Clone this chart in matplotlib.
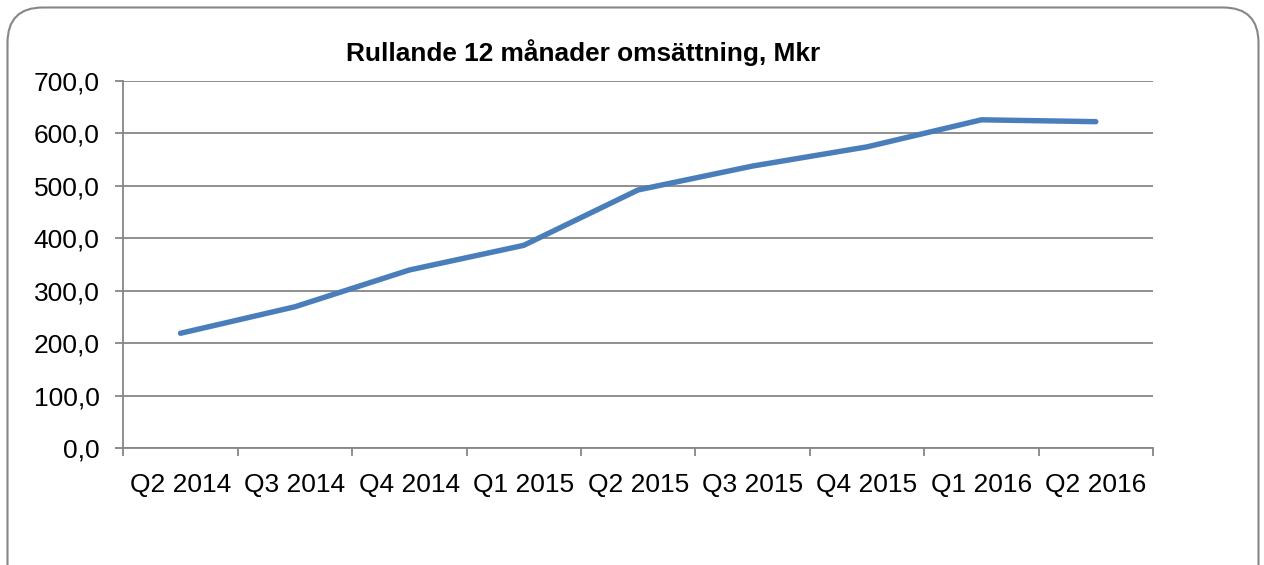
import matplotlib
matplotlib.use("Agg")
import matplotlib.pyplot as plt
from matplotlib.patches import FancyBboxPatch
from matplotlib.ticker import FixedLocator, FuncFormatter

categories = ["Q2 2014", "Q3 2014", "Q4 2014", "Q1 2015", "Q2 2015",
              "Q3 2015", "Q4 2015", "Q1 2016", "Q2 2016"]
values = [219.0, 269.5, 339.5, 386.5, 492.0, 537.5, 574.0, 625.5, 622.0]
title = "Rullande 12 månader omsättning, Mkr"

plt.rcParams['font.family'] = ['Liberation Sans', 'DejaVu Sans']

W, H = 1264, 565
fig = plt.figure(figsize=(W / 100, H / 100), dpi=100)

# rounded outer border (top corners visible, bottom runs off the canvas)
bx0, bx1, btop = 7.5, 1258.5, 7.5
border = FancyBboxPatch((bx0 / W, -40 / H), (bx1 - bx0) / W, (H - btop + 40) / H,
                        boxstyle="round,pad=0,rounding_size=0.028",
                        transform=fig.transFigure, facecolor="none",
                        edgecolor="#868686", linewidth=1.5,
                        mutation_aspect=W / H, zorder=-1)
fig.patches.append(border)

left, right = 123.3 / W, 1153 / W
bottom, top = 1 - 448.3 / H, 1 - 80.7 / H
ax = fig.add_axes([left, bottom, right - left, top - bottom])
ax.set_facecolor("none")
ax.set_zorder(2)

x = list(range(len(categories)))
ax.plot(x, values, color="#4A7EBB", linewidth=3.9, solid_capstyle="round",
        solid_joinstyle="round", zorder=3)

ax.set_xlim(-0.5, len(categories) - 0.5)
ax.set_ylim(0, 700)
ax.set_yticks(range(0, 701, 100))
ax.yaxis.set_major_formatter(FuncFormatter(lambda v, p: f"{v:.1f}".replace(".", ",")))
ax.grid(axis="y", color="#868686", linewidth=1.3, zorder=1)

ax.xaxis.set_major_locator(FixedLocator([i - 0.5 for i in range(len(categories) + 1)]))
ax.xaxis.set_major_formatter(FuncFormatter(lambda v, p: ""))
ax.xaxis.set_minor_locator(FixedLocator(x))
ax.xaxis.set_minor_formatter(FuncFormatter(lambda v, p: categories[int(round(v))]))
ax.tick_params(axis="x", which="major", length=6, color="#868686", width=1.3)
ax.tick_params(axis="x", which="minor", length=0, pad=17.5, labelsize=19)
ax.tick_params(axis="y", length=6, color="#868686", width=1.3, labelsize=19, pad=11)

for s in ["top", "right"]:
    ax.spines[s].set_visible(False)
for s in ["left", "bottom"]:
    ax.spines[s].set_color("#868686")
    ax.spines[s].set_linewidth(1.3)

fig.text(583.5 / W, 1 - 53 / H, title, ha="center", va="center",
         fontsize=18.9, fontweight="bold")

fig.savefig("out.png", dpi=100)
